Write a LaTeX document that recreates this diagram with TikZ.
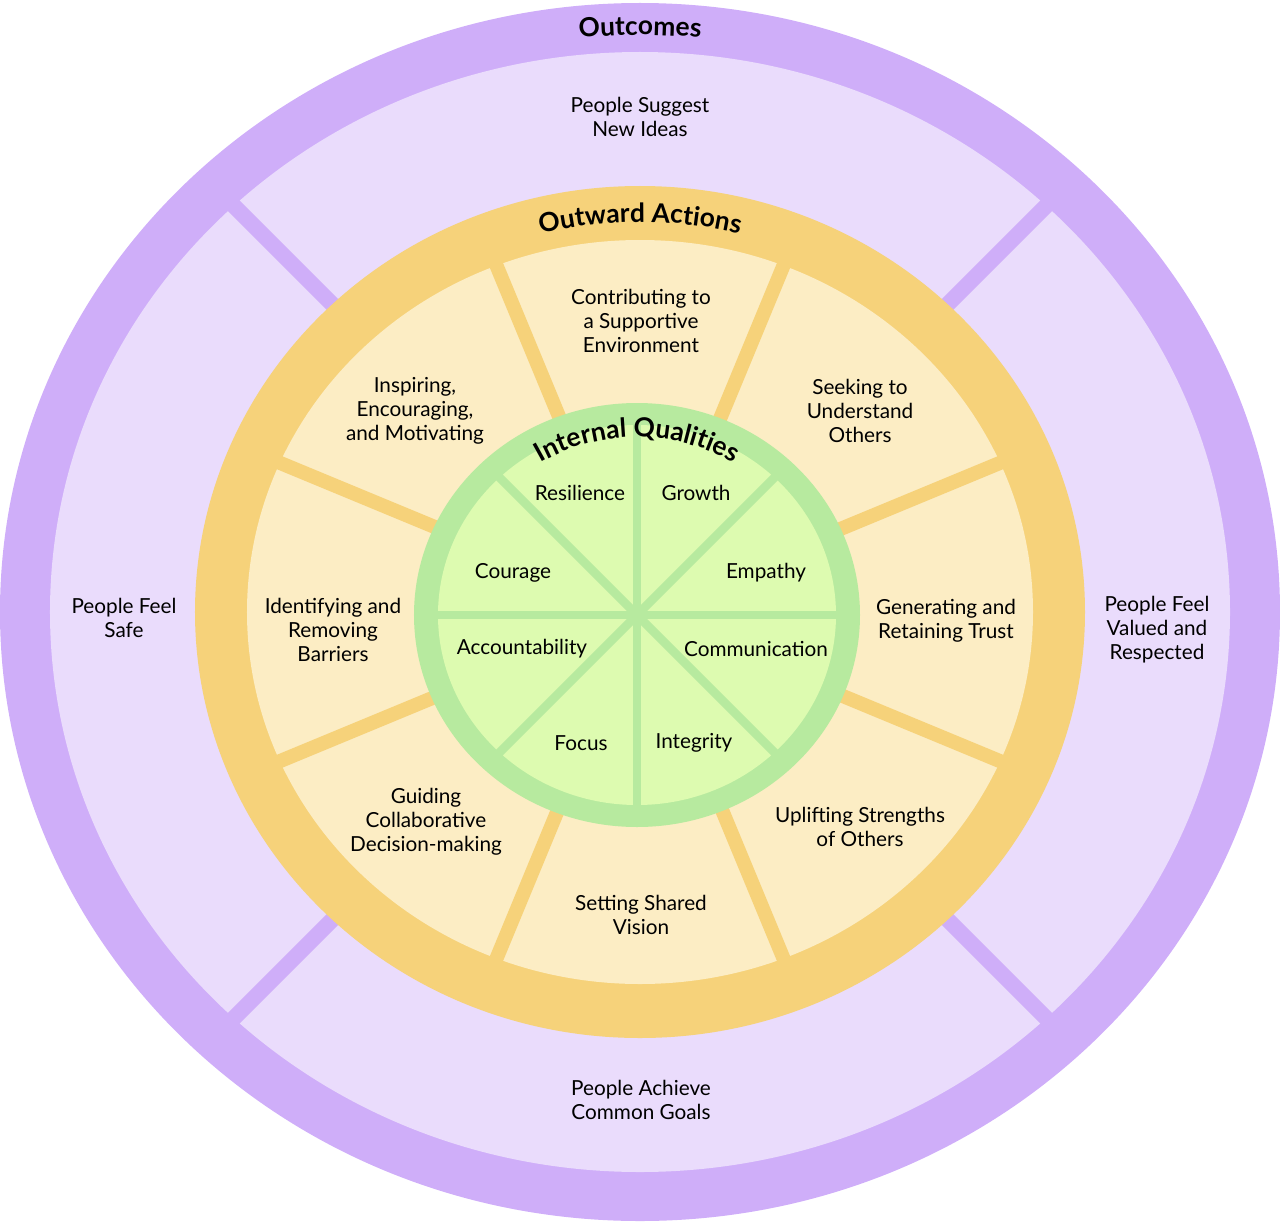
\documentclass[tikz,border=0pt]{standalone}
\usepackage{fontspec}
\setmainfont{Lato}
\usetikzlibrary{decorations.text}
\definecolor{outerdark}{HTML}{CFAEF9}
\definecolor{outerlight}{HTML}{EADCFC}
\definecolor{actdark}{HTML}{F6D27A}
\definecolor{actlight}{HTML}{FCEDC4}
\definecolor{qualdark}{HTML}{B7EA9F}
\definecolor{quallight}{HTML}{DDFBB0}
\tikzset{
  lbl/.style={align=center, font=\fontsize{11.8}{13.6}\selectfont},
  ttl/.style={decorate, decoration={text along path, text align=center, text={|\bfseries\fontsize{15}{17}\selectfont|#1}}}
}
\begin{document}
\begin{tikzpicture}[x=0.02cm, y=0.02cm]
		\useasboundingbox (-640,-609) rectangle (640,612);
		% outcomes ring
		\fill[outerdark] (0,0) ellipse[x radius=640, y radius=609];
		\fill[outerlight] (0,0) ellipse[x radius=590, y radius=560];
		\foreach \a in {45,135,225,315}
			{
				\draw[outerdark, line width=9pt] (0,0) -- (\a:600);
			}
		% outward actions ring
		\fill[actdark] (0,0) ellipse[x radius=445, y radius=426];
		\fill[actlight] (0,0) ellipse[x radius=393, y radius=372];
		\foreach \a in {22.5,67.5,...,337.5}
			{
				\draw[actdark, line width=8pt] (0,0) -- (\a:405);
			}
		% internal qualities
		\fill[qualdark] (-3,-3) ellipse[x radius=223, y radius=212];
		\fill[quallight] (-3,-3) ellipse[x radius=199, y radius=190];
		\foreach \a in {0,45,...,315}
			{
				\draw[qualdark, line width=5pt] (-3,-3) -- ++(\a:205);
			}
		% titles
		\path[ttl=Outcomes] (135:605 and 577) arc[start angle=135, end angle=45, x radius=605, y radius=577];
		\path[ttl=Outward Actions] (135:408 and 390) arc[start angle=135, end angle=45, x radius=408, y radius=390];
		\path[ttl=Internal Qualities] (-3,-3) ++(145:186 and 178) arc[start angle=145, end angle=35, x radius=186, y radius=178];
		% outcomes
		\node[lbl] (ideas) at (0,495) {People Suggest\\New Ideas};
		\node[lbl] (safe) at (-516,-6) {People Feel\\Safe};
		\node[lbl] (valued) at (517,-18) {People Feel\\Valued and\\Respected};
		\node[lbl] (goals) at (1,-488) {People Achieve\\Common Goals};
		% outward actions
		\node[lbl] (contrib) at (1,291) {Contributing to\\a Supportive\\Environment};
		\node[lbl] (seek) at (220,201) {Seeking to\\Understand\\Others};
		\node[lbl] (trust) at (306,-9) {Generating and\\Retaining Trust};
		\node[lbl] (uplift) at (220,-215) {Uplifting Strengths\\of Others};
		\node[lbl] (vision) at (1,-303) {Setting Shared\\Vision};
		\node[lbl] (guide) at (-214,-210) {Guiding\\Collaborative\\Decision-making};
		\node[lbl] (barriers) at (-307,-18) {Identifying and\\Removing\\Barriers};
		\node[lbl] (inspire) at (-225,201) {Inspiring,\\Encouraging,\\and Motivating};
		% internal qualities
		\foreach \x/\y/\n/\t in {-60/119/resil/Resilience, 56/119/growth/Growth, 126/39/empathy/Empathy,
			116/-37/comm/Communication, 54/-131/integ/Integrity, -59/-131/focus/Focus,
			-118/-37/account/Accountability, -127/39/courage/Courage}
			{
				\node[lbl] (\n) at (\x,\y) {\t};
			}
	\end{tikzpicture}
\end{document}
